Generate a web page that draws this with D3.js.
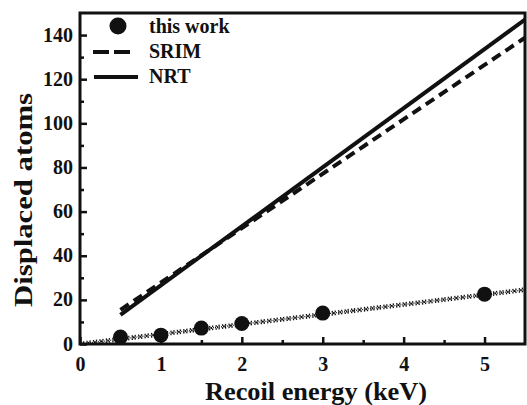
<!DOCTYPE html>
<html>
<head>
<meta charset="utf-8">
<script src="https://cdn.jsdelivr.net/npm/d3@7"></script>
<style>
  html, body { margin: 0; padding: 0; background: #fff; }
  svg text { font-family: "Liberation Serif", "Times New Roman", serif; font-weight: bold; fill: #111; }
</style>
</head>
<body>
<svg id="chart" width="527" height="405"></svg>
<script>
// measured points (this work)
const energies = [0.5, 1, 1.5, 2, 3, 5];
const displaced = [3.2, 4.0, 7.2, 9.3, 14, 22.6];

// fit line through the points
const fitLine = [[0, 0], [5.5, 24.6]];
// SRIM and NRT reference lines
const srimLine = [[0.5, 15.5], [5.5, 138.8]];
const nrtLine = [[0.5, 13.2], [5.5, 147]];

const xTicks = [0, 1, 2, 3, 4, 5];
const yTicks = [0, 20, 40, 60, 80, 100, 120, 140];
const legendLabels = ["this work", "SRIM", "NRT"];

const svg = d3.select("#chart");
const ink = "#111";
const serif = "'Liberation Serif', 'Times New Roman', serif";

const margin = { left: 80, right: 2, top: 13, bottom: 61 };
const W = 527, H = 405;

const x = d3.scaleLinear().domain([0, 5.5]).range([margin.left, W - margin.right]);
const y = d3.scaleLinear().domain([0, 150]).range([H - margin.bottom, margin.top]);

svg.append("clipPath").attr("id", "plot-clip")
  .append("rect")
  .attr("x", x(0)).attr("y", y(150))
  .attr("width", x(5.5) - x(0)).attr("height", y(0) - y(150));

const line = d3.line().x(d => x(d[0])).y(d => y(d[1]));
const plot = svg.append("g").attr("clip-path", "url(#plot-clip)");

// fit line: chain of small crosses
plot.append("path").attr("d", line(fitLine))
  .attr("fill", "none").attr("stroke", ink).attr("stroke-width", 1.2)
  .attr("stroke-dasharray", "1,1");
[-1.5, 1.5].forEach(off => {
  plot.append("path").attr("d", line(fitLine))
    .attr("transform", `translate(0,${off})`)
    .attr("fill", "none").attr("stroke", ink).attr("stroke-width", 1.7)
    .attr("stroke-dasharray", "1.3,1.7,1.3,2.2");
});
plot.append("path").attr("d", line(fitLine))
  .attr("fill", "none").attr("stroke", ink).attr("stroke-width", 2)
  .attr("stroke-dasharray", "1.5,5").attr("stroke-dashoffset", 5.1);

// SRIM dashed
plot.append("path").attr("d", line(srimLine))
  .attr("fill", "none").attr("stroke", ink).attr("stroke-width", 4)
  .attr("stroke-dasharray", "10,6");

// NRT solid
plot.append("path").attr("d", line(nrtLine))
  .attr("fill", "none").attr("stroke", ink).attr("stroke-width", 4);

// points
plot.selectAll("circle.pt")
  .data(energies.map((e, i) => [e, displaced[i]]))
  .join("circle")
  .attr("class", "pt")
  .attr("cx", d => x(d[0])).attr("cy", d => y(d[1]))
  .attr("r", 7.5).attr("fill", ink);

// axes (ticks inward)
const xAxis = d3.axisBottom(x).tickValues(xTicks).tickFormat(d3.format("d"))
  .tickSizeInner(-7).tickSizeOuter(0).tickPadding(13);
const xMinor = d3.axisBottom(x).tickValues([0.5, 1.5, 2.5, 3.5, 4.5]).tickSizeInner(-4).tickSizeOuter(0).tickFormat("");
const yAxis = d3.axisLeft(y).tickValues(yTicks).tickFormat(d3.format("d"))
  .tickSizeInner(-7).tickSizeOuter(0).tickPadding(7);
const yMinor = d3.axisLeft(y).tickValues([10, 30, 50, 70, 90, 110, 130]).tickSizeInner(-4).tickSizeOuter(0).tickFormat("");

function styleAxis(g) {
  g.attr("font-family", serif);
  g.select(".domain").remove();
  g.selectAll(".tick line").attr("stroke", ink).attr("stroke-width", 2.5);
  g.selectAll(".tick text").attr("fill", ink).style("font-size", "20px")
    .style("font-family", serif).style("font-weight", "bold");
}

svg.append("g").attr("transform", `translate(0,${y(0)})`).call(xAxis).call(styleAxis);
svg.append("g").attr("transform", `translate(0,${y(0)})`).call(xMinor).call(styleAxis);
svg.append("g").attr("transform", `translate(${x(0)},0)`).call(yAxis).call(styleAxis)
  .selectAll(".tick text").attr("dy", "0.3em");
svg.append("g").attr("transform", `translate(${x(0)},0)`).call(yMinor).call(styleAxis);

// frame
svg.append("rect")
  .attr("x", x(0)).attr("y", y(150))
  .attr("width", x(5.5) - x(0)).attr("height", y(0) - y(150))
  .attr("fill", "none").attr("stroke", ink).attr("stroke-width", 3);

// axis titles
svg.append("text")
  .attr("x", 316).attr("y", 400)
  .attr("text-anchor", "middle")
  .attr("textLength", 222).attr("lengthAdjust", "spacingAndGlyphs")
  .style("font-size", "25px")
  .text("Recoil energy (keV)");

svg.append("text")
  .attr("transform", "translate(32,200) rotate(-90)")
  .attr("text-anchor", "middle")
  .attr("textLength", 214).attr("lengthAdjust", "spacingAndGlyphs")
  .style("font-size", "25px")
  .text("Displaced atoms");

// legend
const leg = svg.append("g");
leg.append("circle").attr("cx", 118).attr("cy", 26).attr("r", 8.5).attr("fill", ink);
leg.append("line").attr("x1", 93).attr("x2", 131).attr("y1", 52).attr("y2", 52)
  .attr("stroke", ink).attr("stroke-width", 4).attr("stroke-dasharray", "16,5");
leg.append("line").attr("x1", 94).attr("x2", 138).attr("y1", 77).attr("y2", 77)
  .attr("stroke", ink).attr("stroke-width", 4);
leg.selectAll("text.lg")
  .data(legendLabels)
  .join("text")
  .attr("class", "lg")
  .attr("x", 149)
  .attr("y", (d, i) => [33, 58, 83][i])
  .style("font-size", "20px")
  .text(d => d);
</script>
</body>
</html>
